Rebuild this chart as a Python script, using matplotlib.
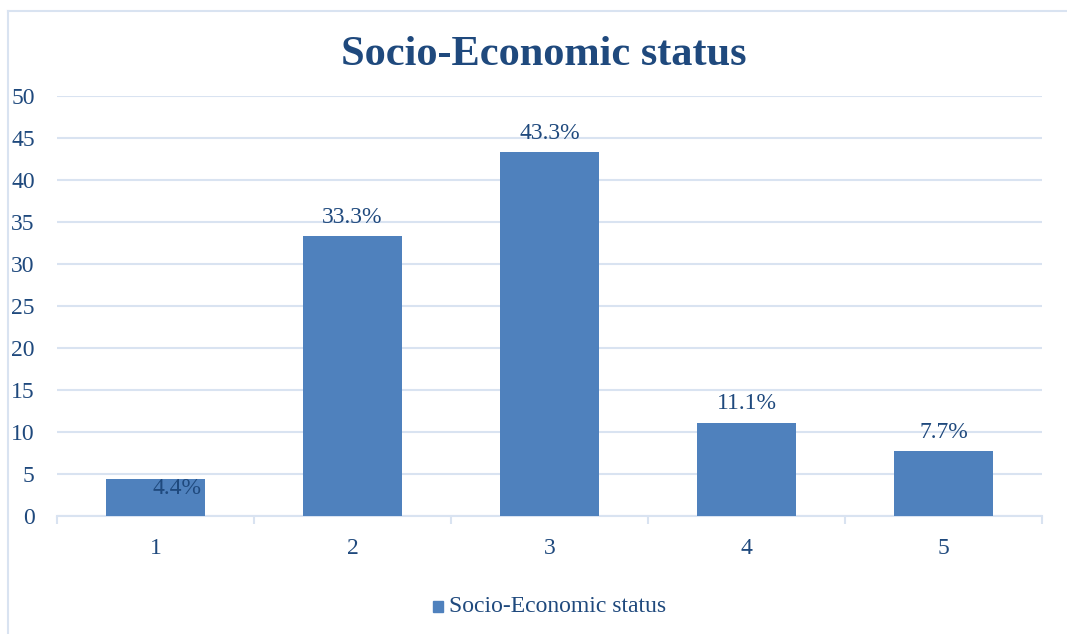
import matplotlib
matplotlib.use('Agg')
import matplotlib.pyplot as plt
from matplotlib.patches import Rectangle

categories = ['1', '2', '3', '4', '5']
values = [4.4, 33.3, 43.3, 11.1, 7.7]
labels = ['4.4%', '33.3%', '43.3%', '11.1%', '7.7%']
series_name = 'Socio-Economic status'

BAR = '#4F81BD'
TEXT = '#1F497D'
GRID = '#D9E3F1'
FONT = ['Liberation Serif', 'DejaVu Serif']
FS = 17

W, H = 1067, 634
fig = plt.figure(figsize=(W / 100, H / 100), dpi=100)
ax = fig.add_axes([57 / W, 1 - 516 / H, (1042 - 57) / W, (516 - 96) / H])

x = list(range(len(categories)))
ax.bar(x, values, width=0.5, color=BAR, zorder=3)

ax.set_xlim(-0.5, len(categories) - 0.5)
ax.set_ylim(0, 50)
ax.set_yticks(range(0, 51, 5))
ax.yaxis.grid(True, color=GRID, linewidth=1.5, zorder=0)
ax.tick_params(axis='y', length=0, pad=16, labelsize=FS, labelcolor=TEXT)
for t in ax.get_yticklabels():
    t.set_family(FONT)

ax.set_xticks(x)
ax.set_xticklabels(categories, family=FONT, fontsize=FS, color=TEXT)
ax.tick_params(axis='x', length=0, pad=16)
# category boundary ticks
ax.set_xticks([i - 0.5 for i in range(len(categories) + 1)], minor=True)
ax.tick_params(axis='x', which='minor', length=6, color=GRID, width=1.5)

for s in ['top', 'right', 'left']:
    ax.spines[s].set_visible(False)
ax.spines['bottom'].set_color(GRID)
ax.spines['bottom'].set_linewidth(1.5)

for i, (v, lab) in enumerate(zip(values, labels)):
    if i == 0:
        ax.text(i + 0.11, v - 1.1, lab, ha='center', va='center',
                family=FONT, fontsize=FS, color=TEXT, zorder=4)
    else:
        ax.text(i, v + 1.0, lab, ha='center', va='bottom',
                family=FONT, fontsize=FS, color=TEXT, zorder=4)

fig.text(544 / W, 1 - 55 / H, 'Socio-Economic status', ha='center', va='center',
         family=FONT, fontsize=30.5, fontweight='bold', color=TEXT)

# legend
fig.patches.append(Rectangle((433 / W, 1 - 612 / H), 10 / W, 11 / H,
                             transform=fig.transFigure, color=BAR))
fig.text(449 / W, 1 - 606 / H, series_name, ha='left', va='center',
         family=FONT, fontsize=FS, color=TEXT)

# chart border
fig.add_artist(plt.Line2D([8 / W, 8 / W], [0, 1 - 11 / H], transform=fig.transFigure,
                          color=GRID, linewidth=1.5))
fig.add_artist(plt.Line2D([8 / W, 1], [1 - 11 / H, 1 - 11 / H], transform=fig.transFigure,
                          color=GRID, linewidth=1.5))

fig.savefig('out.png', dpi=100)
